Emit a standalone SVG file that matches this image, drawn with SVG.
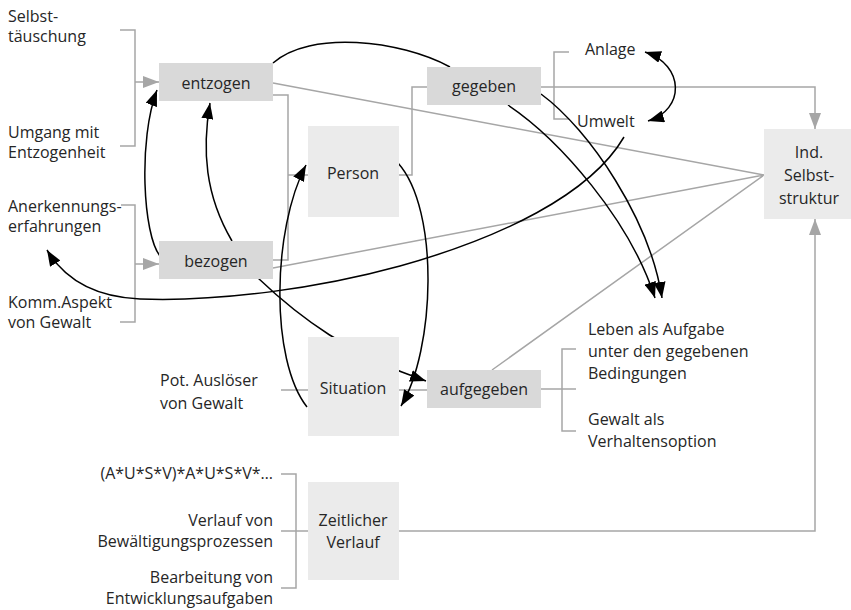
<svg xmlns="http://www.w3.org/2000/svg" width="851" height="610" viewBox="0 0 851 610">
<style>
text{font-family:"Open Sans","Noto Sans","Liberation Sans",sans-serif;font-size:16px;fill:#262626}
.c{text-anchor:middle}
.r{text-anchor:end}
.g{fill:none;stroke:#a6a6a6;stroke-width:1.5}
.k{fill:none;stroke:#000;stroke-width:1.5}
.d{fill:#d9d9d9}
.l{fill:#ebebeb}
</style>
<defs>
<marker id="ga" markerUnits="userSpaceOnUse" markerWidth="16" markerHeight="12" refX="16" refY="6" orient="auto"><path d="M0,0 L16,6 L0,12 z" fill="#a6a6a6"/></marker>
<marker id="ka" markerUnits="userSpaceOnUse" markerWidth="16" markerHeight="12" refX="16" refY="6" orient="auto-start-reverse"><path d="M0,0 L16,6 L0,12 z" fill="#000"/></marker>
</defs>
<g id="connectors">
<path class="g" d="M120,30 H135 V146 H120 M135,82 H159" marker-end="url(#ga)"/>
<path class="g" d="M121,205 H135 V322 H120 M135,264 H159" marker-end="url(#ga)"/>
<path class="g" d="M273,95 H288 V260 H273 M288,175 H308"/>
<path class="g" d="M399,175 H412 V87 H427"/>
<path class="g" d="M569,52 H554 V119 H569"/>
<path class="g" d="M541,87 H815 V129" marker-end="url(#ga)"/>
<path class="g" d="M273,83 L764,175 M273,268 L764,175 M492,370 L764,175"/>
<path class="g" d="M281,390 H308 M399,390 H427"/>
<path class="g" d="M541,389 H576 M576,349 H562 V431 H576"/>
<path class="g" d="M281,474 H296 V588 H281 M281,531 H308"/>
<path class="g" d="M399,531 H815 V219" marker-end="url(#ga)"/>
<path class="k" d="M160,256 C 143,235 138,140 157,90" marker-end="url(#ka)"/>
<path class="k" d="M232,241 C 205,195 202,150 210,103" marker-end="url(#ka)"/>
<path class="k" d="M273,63 C 310,30 400,40 450,67"/>
<path class="k" d="M508,105 C 560,140 630,220 655,298" marker-end="url(#ka)"/>
<path class="k" d="M541,94 C 590,130 650,220 662,298" marker-end="url(#ka)"/>
<path class="k" d="M645,52 C 685,65 685,110 648,121" marker-start="url(#ka)" marker-end="url(#ka)"/>
<path class="k" d="M624,137 C 590,195 500,238 400,266 C 320,288 220,302 140,299 C 95,297 65,280 47,250" marker-end="url(#ka)"/>
<path class="k" d="M398,163 C 440,210 435,350 401,406" marker-end="url(#ka)"/>
<path class="k" d="M307,407 C 270,360 272,230 306,165" marker-end="url(#ka)"/>
<path class="k" d="M258,278 C 300,318 350,355 426,381" marker-end="url(#ka)"/>
</g>
<g id="entzogen"><rect class="d" x="159" y="63" width="114" height="38"/><text class="c" x="216" y="89">entzogen</text></g>
<g id="bezogen"><rect class="d" x="159" y="241" width="114" height="38"/><text class="c" x="216" y="267">bezogen</text></g>
<g id="person"><rect class="l" x="308" y="126" width="91" height="91"/><text class="c" x="353" y="179">Person</text></g>
<g id="gegeben"><rect class="d" x="427" y="67" width="114" height="38"/><text class="c" x="484" y="92">gegeben</text></g>
<g id="situation"><rect class="l" x="308" y="337" width="91" height="99"/><text class="c" x="353" y="394">Situation</text></g>
<g id="aufgegeben"><rect class="d" x="427" y="370" width="114" height="38"/><text class="c" x="484" y="395">aufgegeben</text></g>
<g id="ind"><rect class="l" x="764" y="129" width="87" height="90"/><text class="c" x="809" y="158">Ind.</text><text class="c" x="809" y="181">Selbst-</text><text class="c" x="809" y="204">struktur</text></g>
<g id="zeitlicher"><rect class="l" x="308" y="482" width="91" height="98"/><text class="c" x="353" y="526">Zeitlicher</text><text class="c" x="353" y="548">Verlauf</text></g>
<g id="labels">
<text x="8" y="22">Selbst-</text><text x="8" y="42">täuschung</text>
<text x="8" y="138">Umgang mit</text><text x="8" y="158">Entzogenheit</text>
<text x="8" y="212">Anerkennungs-</text><text x="8" y="232">erfahrungen</text>
<text x="8" y="308">Komm.Aspekt</text><text x="8" y="328">von Gewalt</text>
<text x="585" y="55">Anlage</text><text x="577" y="127">Umwelt</text>
<text x="160" y="386">Pot. Auslöser</text><text x="160" y="409">von Gewalt</text>
<text x="588" y="335">Leben als Aufgabe</text><text x="588" y="357">unter den gegebenen</text><text x="588" y="379">Bedingungen</text>
<text x="588" y="425">Gewalt als</text><text x="588" y="447">Verhaltensoption</text>
<text class="r" x="273" y="479">(A*U*S*V)*A*U*S*V*…</text>
<text class="r" x="273" y="526">Verlauf von</text><text class="r" x="273" y="547">Bewältigungsprozessen</text>
<text class="r" x="273" y="583">Bearbeitung von</text><text class="r" x="273" y="604">Entwicklungsaufgaben</text>
</g>
</svg>
